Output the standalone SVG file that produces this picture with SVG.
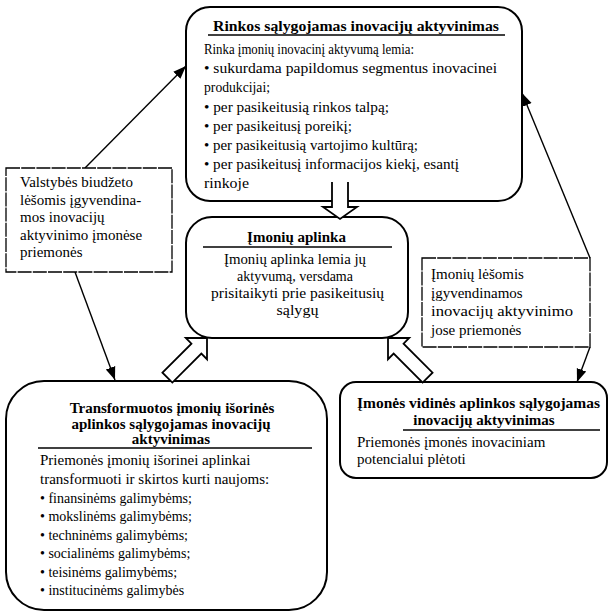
<svg xmlns="http://www.w3.org/2000/svg" width="609" height="614" viewBox="0 0 609 614">
<defs>
<marker id="ah" markerUnits="userSpaceOnUse" markerWidth="14" markerHeight="12" refX="13" refY="6" orient="auto">
<path d="M0,1 L13,6 L0,11 Z" fill="#000"/>
</marker>
<style>
.box{fill:#fff;stroke:#000;stroke-width:2}
.dbox{fill:#fff;stroke:#000;stroke-width:1.3;stroke-dasharray:14 1.2}
.t{font-family:"Liberation Serif","Times New Roman",serif;font-size:15px;fill:#000}
.s{font-size:14px}
.h{font-family:"Liberation Serif","Times New Roman",serif;font-size:15px;font-weight:bold;fill:#000}
.c{text-anchor:middle}
.ul{stroke:#000;stroke-width:1.3}
.ln{stroke:#000;stroke-width:1.4;fill:none;marker-end:url(#ah)}
.blk{fill:#fff;stroke:#000;stroke-width:1.8;stroke-linejoin:miter}
</style>
</defs>
<rect width="609" height="614" fill="#fff"/>

<g id="connectors">
<line class="ln" x1="85" y1="168" x2="186" y2="66"/>
<line class="ln" x1="75" y1="272" x2="115" y2="380"/>
<line class="ln" x1="590" y1="258" x2="522" y2="93"/>
<line class="ln" x1="590" y1="347" x2="577" y2="382"/>
</g>

<g id="market">
<rect class="box" x="186" y="7" width="336" height="194" rx="24"/>
<text class="h c" x="356" y="31" textLength="286" lengthAdjust="spacingAndGlyphs">Rinkos sąlygojamas inovacijų aktyvinimas</text>
<line class="ul" x1="208" y1="35" x2="505" y2="35"/>
<text class="t" x="204" y="54" textLength="210" lengthAdjust="spacingAndGlyphs">Rinka įmonių inovacinį aktyvumą lemia:</text>
<text class="t" x="204" y="73" textLength="293" lengthAdjust="spacingAndGlyphs">• sukurdama papildomus segmentus inovacinei</text>
<text class="t" x="204" y="92" textLength="66" lengthAdjust="spacingAndGlyphs">produkcijai;</text>
<text class="t" x="204" y="111.5" textLength="185" lengthAdjust="spacingAndGlyphs">• per pasikeitusią rinkos talpą;</text>
<text class="t" x="204" y="130.5" textLength="148" lengthAdjust="spacingAndGlyphs">• per pasikeitusį poreikį;</text>
<text class="t" x="204" y="149.5" textLength="214" lengthAdjust="spacingAndGlyphs">• per pasikeitusią vartojimo kultūrą;</text>
<text class="t" x="204" y="168.5" textLength="255" lengthAdjust="spacingAndGlyphs">• per pasikeitusį informacijos kiekį, esantį</text>
<text class="t" x="204" y="188" textLength="45" lengthAdjust="spacingAndGlyphs">rinkoje</text>
</g>

<g id="state">
<rect class="dbox" x="6" y="168" width="166" height="104"/>
<text class="t" x="20" y="187">Valstybės biudžeto</text>
<text class="t" x="20" y="204.5">lėšomis įgyvendina-</text>
<text class="t" x="20" y="222">mos inovacijų</text>
<text class="t" x="20" y="239.5">aktyvinimo įmonėse</text>
<text class="t" x="20" y="257">priemonės</text>
</g>

<g id="environment">
<rect class="box" x="186" y="217" width="222" height="121" rx="26"/>
<text class="h c" x="296.5" y="242">Įmonių aplinka</text>
<line class="ul" x1="203" y1="247" x2="392" y2="247"/>
<text class="t c" x="295" y="264" textLength="142" lengthAdjust="spacingAndGlyphs">Įmonių aplinka lemia jų</text>
<text class="t c" x="295" y="281" textLength="116" lengthAdjust="spacingAndGlyphs">aktyvumą, versdama</text>
<text class="t c" x="297.5" y="298" textLength="173" lengthAdjust="spacingAndGlyphs">prisitaikyti prie pasikeitusių</text>
<text class="t c" x="297.5" y="315" textLength="42" lengthAdjust="spacingAndGlyphs">sąlygų</text>
</g>

<g id="company-funds">
<rect class="dbox" x="422" y="258" width="168" height="89"/>
<text class="t" x="431" y="279">Įmonių lėšomis</text>
<text class="t" x="431" y="297.5">įgyvendinamos</text>
<text class="t" x="431" y="316" textLength="142" lengthAdjust="spacingAndGlyphs">inovacijų aktyvinimo</text>
<text class="t" x="431" y="334.5">jose priemonės</text>
</g>

<g id="external">
<rect class="box" x="6" y="381" width="321" height="229" rx="38"/>
<text class="h c" x="172" y="413">Transformuotos įmonių išorinės</text>
<text class="h c" x="171" y="428.5">aplinkos sąlygojamas inovacijų</text>
<text class="h c" x="171" y="444">aktyvinimas</text>
<line class="ul" x1="38" y1="448" x2="312" y2="448"/>
<text class="t" x="40" y="465">Priemonės įmonių išorinei aplinkai</text>
<text class="t" x="40" y="483.5">transformuoti ir skirtos kurti naujoms:</text>
<text class="t s" x="40" y="502.5">• finansinėms galimybėms;</text>
<text class="t s" x="40" y="521">• mokslinėms galimybėms;</text>
<text class="t s" x="40" y="539.5">• techninėms galimybėms;</text>
<text class="t s" x="40" y="558">• socialinėms galimybėms;</text>
<text class="t s" x="40" y="576.5">• teisinėms galimybėms;</text>
<text class="t s" x="40" y="595">• institucinėms galimybės</text>
</g>

<g id="internal">
<rect class="box" x="340" y="382" width="267" height="96" rx="16"/>
<text class="h c" x="478.5" y="408" textLength="243" lengthAdjust="spacingAndGlyphs">Įmonės vidinės aplinkos sąlygojamas</text>
<text class="h c" x="484" y="424.5">inovacijų aktyvinimas</text>
<line class="ul" x1="403" y1="430" x2="600" y2="430"/>
<text class="t" x="357" y="447">Priemonės įmonės inovaciniam</text>
<text class="t" x="357" y="464">potencialui plėtoti</text>
</g>

<g id="block-arrows">
<path class="blk" d="M332,182 V207 H323 L340,219 L357,207 H348 V182"/>
<path class="blk" transform="translate(167.4,377.6) rotate(-45)" d="M0,-7 H41 V-15 L56,0 L41,15 V7 H0 Z"/>
<path class="blk" transform="translate(427.6,377.6) rotate(-135)" d="M0,-7 H41 V-15 L56,0 L41,15 V7 H0 Z"/>
</g>
</svg>
